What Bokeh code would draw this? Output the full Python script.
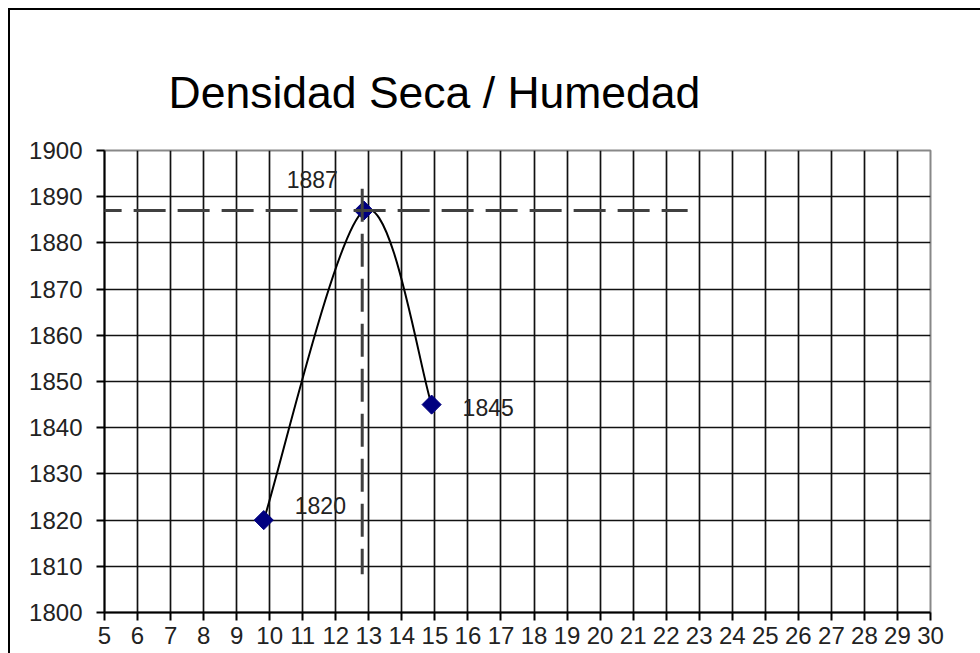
import numpy as np
from bokeh.plotting import figure
from bokeh.models import Label, Arrow, FixedTicker, Range1d
from bokeh.embed import file_html
from bokeh.resources import INLINE

# ---- data ----
humedad = [9.82, 12.85, 14.9]          # % humedad
densidad = [1820, 1887, 1845]          # densidad seca
x_ticks = list(range(5, 31))
y_ticks = list(range(1800, 1901, 10))
hum_optima = 12.8                      # vertical reference line
dens_max = 1887                        # horizontal reference line
h_line_x = [4.55, 22.65]
v_line_y = [1808.3, 1891.7]
title_text = "Densidad Seca / Humedad"
label_x_off = [31, -26, 31]
label_y_off = [15, 31, -3]
label_align = ["left", "right", "left"]

FONT = "Liberation Sans"

p = figure(
    output_backend="svg", toolbar_location=None,
    frame_width=826, frame_height=462,
    min_border_left=94, min_border_right=50, min_border_top=140, min_border_bottom=41,
    x_range=Range1d(5, 30), y_range=Range1d(1800, 1900),
    background_fill_color="white", border_fill_color="white",
)
p.styles = {"margin-left": "8px", "margin-top": "8px",
            "border-left": "2px solid #000", "border-top": "2px solid #000"}
p.outline_line_color = "#888888"
p.outline_line_width = 2

p.title.text = title_text
p.title.text_font = FONT
p.title.text_font_size = "44.5px"
p.title.text_font_style = "normal"
p.title.text_color = "black"
p.title.align = "left"
p.title.offset = 64
p.title.standoff = 67

for ax, ticks, st in ((p.xaxis, x_ticks, 6), (p.yaxis, y_ticks, 14)):
    ax.ticker = FixedTicker(ticks=ticks)
    ax.axis_line_color = "black"
    ax.axis_line_width = 2
    ax.major_tick_line_color = "black"
    ax.major_tick_line_width = 2
    ax.major_tick_out = 8
    ax.major_tick_in = 0
    ax.minor_tick_line_color = None
    ax.major_label_text_font = FONT
    ax.major_label_text_font_size = "24px"
    ax.major_label_text_color = "#222222"
    ax.major_label_standoff = st

p.xgrid.ticker = FixedTicker(ticks=x_ticks)
p.ygrid.ticker = FixedTicker(ticks=y_ticks)
for g in (p.xgrid, p.ygrid):
    g.grid_line_color = "#111111"
    g.grid_line_width = 1.7

# smoothed line (Catmull-Rom -> cubic bezier) through the data points
P = np.column_stack([humedad, densidad]).astype(float)
ext = np.vstack([P[0], P, P[-1]])
x0, y0, x1, y1, cx0, cy0, cx1, cy1 = [], [], [], [], [], [], [], []
for i in range(len(P) - 1):
    p0, p1, p2, p3 = ext[i], ext[i + 1], ext[i + 2], ext[i + 3]
    c1 = p1 + (p2 - p0) / 6.0
    c2 = p2 - (p3 - p1) / 6.0
    x0.append(p1[0]); y0.append(p1[1]); x1.append(p2[0]); y1.append(p2[1])
    cx0.append(c1[0]); cy0.append(c1[1]); cx1.append(c2[0]); cy1.append(c2[1])
p.bezier(x0=x0, y0=y0, x1=x1, y1=y1, cx0=cx0, cy0=cy0, cx1=cx1, cy1=cy1,
         line_color="black", line_width=2)

p.scatter(humedad, densidad, marker="square", size=13.5, angle=np.pi / 4,
          fill_color="#000080", line_color="#000080")

# dashed reference lines (annotations, drawn on top)
p.add_layout(Arrow(end=None, x_start=h_line_x[0], y_start=dens_max,
                   x_end=h_line_x[1], y_end=dens_max,
                   line_color="#404040", line_width=3, line_dash="32 12"))
p.add_layout(Arrow(end=None, x_start=hum_optima, y_start=v_line_y[1],
                   x_end=hum_optima, y_end=v_line_y[0],
                   line_color="#404040", line_width=3, line_dash="33 12"))

for xv, yv, xo, yo, al in zip(humedad, densidad, label_x_off, label_y_off, label_align):
    p.add_layout(Label(x=xv, y=yv, text=str(yv), x_offset=xo, y_offset=yo,
                       text_align=al, text_baseline="middle",
                       text_font=FONT, text_font_size="23px",
                       text_color="#222222"))

open("out.html", "w").write(file_html(p, INLINE))
